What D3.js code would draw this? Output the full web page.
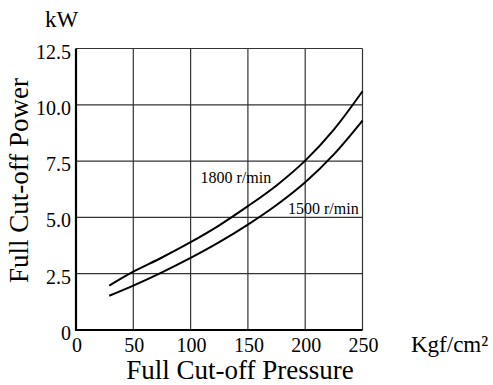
<!DOCTYPE html>
<html>
<head>
<meta charset="utf-8">
<script src="https://cdn.jsdelivr.net/npm/d3@7"></script>
<style>
  body { margin: 0; background: #fff; }
  text { font-family: "Liberation Serif", "Times New Roman", serif; fill: #000; }
</style>
</head>
<body>
<div class="chart"></div>
<script>
// Data
let pressure = [29, 50, 75, 100, 125, 150, 175, 200, 225, 250];
let power1800 = [1.97, 2.59, 3.22, 3.9, 4.65, 5.5, 6.42, 7.52, 8.9, 10.6];
let power1500 = [1.52, 1.97, 2.56, 3.2, 3.9, 4.68, 5.55, 6.56, 7.8, 9.3];
let xTicks = [0, 50, 100, 150, 200, 250];
let yTicks = [0, 2.5, 5.0, 7.5, 10.0, 12.5];

let svg = d3.select(".chart").append("svg")
    .attr("width", 493)
    .attr("height", 385);

let x = d3.scaleLinear().domain([0, 250]).range([76, 362.5]);
let y = d3.scaleLinear().domain([0, 12.5]).range([330, 48.5]);

// grid
svg.append("g").selectAll("line")
    .data(xTicks.slice(1))
    .join("line")
    .attr("x1", d => x(d)).attr("x2", d => x(d))
    .attr("y1", y(0)).attr("y2", y(12.5))
    .attr("stroke", "#333").attr("stroke-width", 1.2);

svg.append("g").selectAll("line")
    .data(yTicks.slice(1))
    .join("line")
    .attr("x1", x(0)).attr("x2", x(250))
    .attr("y1", d => y(d)).attr("y2", d => y(d))
    .attr("stroke", "#333").attr("stroke-width", 1.2);

// main axes
svg.append("line")
    .attr("x1", x(0)).attr("x2", x(0))
    .attr("y1", y(0) + 1).attr("y2", y(12.5))
    .attr("stroke", "#000").attr("stroke-width", 2.2);
svg.append("line")
    .attr("x1", x(0) - 1).attr("x2", x(250))
    .attr("y1", y(0)).attr("y2", y(0))
    .attr("stroke", "#000").attr("stroke-width", 2.2);

// tick labels
svg.append("g").selectAll("text")
    .data(xTicks)
    .join("text")
    .attr("x", d => x(d) + 1)
    .attr("y", 352)
    .attr("text-anchor", "middle")
    .style("font-size", "20px")
    .text(d => d);

svg.append("g").selectAll("text")
    .data(yTicks)
    .join("text")
    .attr("x", 71)
    .attr("y", d => y(d) + 10)
    .attr("text-anchor", "end")
    .style("font-size", "20px")
    .text(d => d === 0 ? "0" : d.toFixed(1));

// units and titles
svg.append("text")
    .attr("x", 61.5).attr("y", 26.5)
    .attr("text-anchor", "middle")
    .style("font-size", "23px")
    .text("kW");

svg.append("text")
    .attr("x", 411).attr("y", 352)
    .style("font-size", "23px")
    .text("Kgf/cm²");

svg.append("text")
    .attr("x", 240).attr("y", 379)
    .attr("text-anchor", "middle")
    .style("font-size", "27px")
    .text("Full Cut-off Pressure");

svg.append("text")
    .attr("transform", "translate(28,180.5) rotate(-90)")
    .attr("text-anchor", "middle")
    .style("font-size", "27px")
    .text("Full Cut-off Power");

// curves
let line = d3.line()
    .x(d => x(d[0]))
    .y(d => y(d[1]))
    .curve(d3.curveCatmullRom);

[power1800, power1500].forEach(series => {
    svg.append("path")
        .datum(pressure.map((p, i) => [p, series[i]]))
        .attr("d", line)
        .attr("fill", "none")
        .attr("stroke", "#000")
        .attr("stroke-width", 2);
});

svg.append("text")
    .attr("x", 200.5).attr("y", 183)
    .style("font-size", "16px")
    .text("1800 r/min");

svg.append("text")
    .attr("x", 288).attr("y", 213.5)
    .style("font-size", "16px")
    .text("1500 r/min");
</script>
</body>
</html>
